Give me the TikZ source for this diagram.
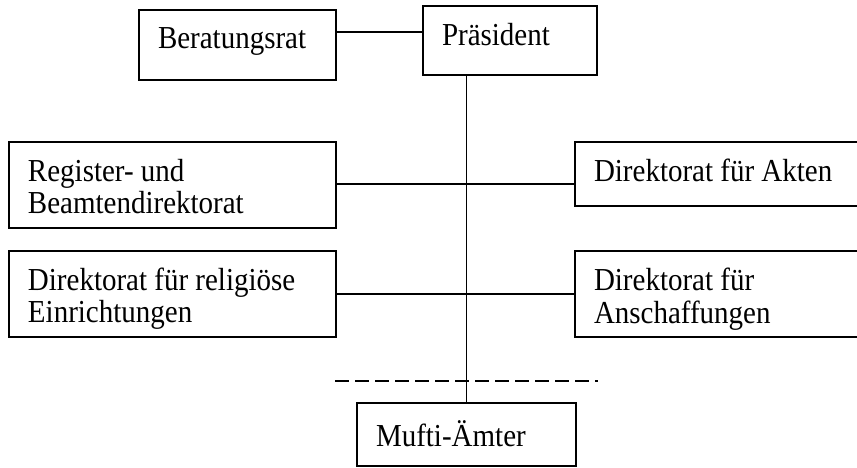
\documentclass[tikz,border=0pt]{standalone}
\usepackage{fontspec}
\setmainfont{Liberation Serif}[FakeStretch=0.906]
\newcommand\boxtxt[3]{\parbox[c][#2][t]{#1}{\fontsize{32}{29.5}\selectfont\raggedright\leftskip=19pt\vspace*{17.2pt}\strut #3}}
\begin{document}
\begin{tikzpicture}[x=1pt,y=-1pt,
  orgbox/.style={draw, rectangle, inner sep=0pt, outer sep=0pt, anchor=north west, line width=1.4pt},
  conn/.style={line width=1.4pt},
  dconn/.style={line width=1.4pt, dash pattern=on 14pt off 6pt}]
\useasboundingbox (0,0) rectangle (857,468);
\clip (0,0) rectangle (857,468);
\node[orgbox] (ber) at (139,10) {\boxtxt{197pt}{70pt}{Beratungsrat}};
\node[orgbox] (pra) at (423,6) {\boxtxt{174pt}{69pt}{Präsident}};
\node[orgbox] (reg) at (9,142) {\boxtxt{327pt}{86pt}{Register- und\\Beamtendirektorat}};
\node[orgbox] (akt) at (575,142) {\boxtxt{300pt}{64pt}{Direktorat für Akten}};
\node[orgbox] (rel) at (9,251) {\boxtxt{327pt}{86pt}{Direktorat für religiöse\\Einrichtungen}};
\node[orgbox] (ans) at (575,251) {\boxtxt{300pt}{86pt}{Direktorat für\\Anschaffungen}};
\node[orgbox] (muf) at (357,403) {\boxtxt{219pt}{63pt}{Mufti-Ämter}};
\coordinate (y1) at (0,32);
\coordinate (y2) at (0,184);
\coordinate (dl) at (335,381);
\coordinate (dr) at (598,381);
\draw[conn] (ber.east |- y1) -- (pra.west |- y1);
\draw[conn] (muf.north |- pra.south) -- (muf.north);
\draw[conn] (reg.east |- y2) -- (akt.west |- y2);
\draw[conn] (rel.east) -- (ans.west);
\draw[dconn] (dl) -- (dr);
\end{tikzpicture}
\end{document}
